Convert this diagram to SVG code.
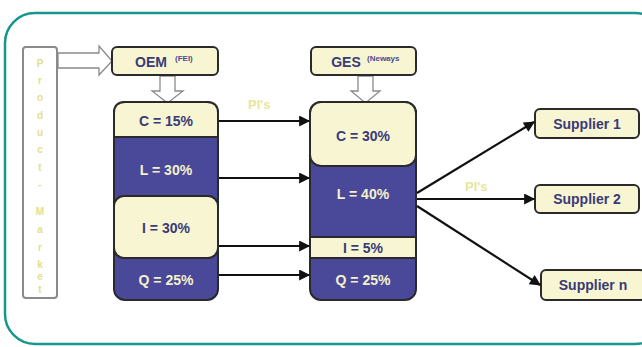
<svg xmlns="http://www.w3.org/2000/svg" width="642" height="347" viewBox="0 0 642 347">
  <style>
    .frame { fill: #ffffff; stroke: #17978d; stroke-width: 2.5; }
    .pm { fill: #ffffff; stroke: #8a8a8a; stroke-width: 2; }
    .pmtxt { font-family: "Liberation Sans", Arial, sans-serif; font-size: 10px; font-weight: bold; fill: #e2e08e; text-anchor: middle; }
    .hollow { fill: #ffffff; stroke: #8a8a8a; stroke-width: 1.3; }
    .cream { fill: #f8f6d2; stroke: #2a2a2a; stroke-width: 2; }
    .navy { fill: #4a4898; stroke: #2a2a2a; stroke-width: 2; }
    .lbl { font-family: "Liberation Sans", Arial, sans-serif; font-size: 14px; font-weight: bold; text-anchor: middle; }
    .dk { fill: #3a3a78; }
    .lt { fill: #f4f2cc; }
    .sup { font-family: "Liberation Sans", Arial, sans-serif; font-size: 8px; font-weight: bold; fill: #4a4a90; }
    .pis { font-family: "Liberation Sans", Arial, sans-serif; font-size: 13px; font-weight: bold; fill: #e8e69a; }
    .conn { stroke: #111111; stroke-width: 2.2; fill: none; marker-end: url(#ah); }
  </style>
  <defs>
    <marker id="ah" viewBox="0 0 10 10" refX="9" refY="5" markerWidth="5.5" markerHeight="5" orient="auto" markerUnits="strokeWidth">
      <path d="M0,0 L10,5 L0,10 z" fill="#111111"/>
    </marker>
  </defs>

  <!-- outer frame -->
  <rect class="frame" x="5" y="13" width="660" height="331" rx="30"/>

  <!-- Product - Market column -->
  <g id="product-market">
    <rect class="pm" x="23" y="47" width="34" height="251" rx="3"/>
    <text class="pmtxt" x="40" y="67">P</text>
    <text class="pmtxt" x="40" y="84">r</text>
    <text class="pmtxt" x="40" y="101">o</text>
    <text class="pmtxt" x="40" y="119">d</text>
    <text class="pmtxt" x="40" y="136">u</text>
    <text class="pmtxt" x="40" y="153">c</text>
    <text class="pmtxt" x="40" y="171">t</text>
    <text class="pmtxt" x="40" y="188">-</text>
    <text class="pmtxt" x="40" y="215">M</text>
    <text class="pmtxt" x="40" y="233">a</text>
    <text class="pmtxt" x="40" y="251">r</text>
    <text class="pmtxt" x="40" y="268">k</text>
    <text class="pmtxt" x="40" y="280">e</text>
    <text class="pmtxt" x="40" y="293">t</text>
  </g>

  <!-- hollow arrows -->
  <g id="flow-arrows">
    <path class="hollow" d="M58,53 L99,53 L99,46 L112,61 L99,75 L99,68 L58,68 z"/>
    <path class="hollow" d="M160,76 L175,76 L175,91 L183,91 L167.5,103 L152,91 L160,91 z"/>
    <path class="hollow" d="M358,76 L373,76 L373,91 L380,91 L365.5,103 L351,91 L358,91 z"/>
  </g>

  <!-- OEM header -->
  <g id="oem">
    <rect class="cream" x="112" y="47" width="106" height="28" rx="5"/>
    <text class="lbl dk" x="151" y="67">OEM</text>
    <text class="sup" x="175" y="61">(FEI)</text>
  </g>

  <!-- GES header -->
  <g id="ges">
    <rect class="cream" x="311" y="47" width="105" height="28" rx="5"/>
    <text class="lbl dk" x="346" y="67">GES</text>
    <text class="sup" x="367" y="61">(Neways</text>
  </g>

  <!-- OEM stack -->
  <g id="oem-stack">
    <rect class="navy" x="114" y="102" width="104" height="198" rx="11"/>
    <path class="cream" d="M114,137 L114,113 Q114,102 125,102 L207,102 Q218,102 218,113 L218,137 z"/>
    <rect class="cream" x="114" y="196" width="104" height="62" rx="10"/>
    <text class="lbl dk" x="166" y="126">C = 15%</text>
    <text class="lbl lt" x="166" y="175">L = 30%</text>
    <text class="lbl dk" x="166" y="233">I = 30%</text>
    <text class="lbl lt" x="166" y="285">Q = 25%</text>
  </g>

  <!-- GES stack -->
  <g id="ges-stack">
    <rect class="navy" x="310" y="102" width="106" height="198" rx="11"/>
    <rect class="cream" x="310" y="102" width="106" height="64" rx="11"/>
    <rect class="cream" x="310" y="237" width="106" height="21"/>
    <text class="lbl dk" x="363" y="141">C = 30%</text>
    <text class="lbl lt" x="363" y="199">L = 40%</text>
    <text class="lbl dk" x="363" y="253">I = 5%</text>
    <text class="lbl lt" x="363" y="285">Q = 25%</text>
  </g>

  <!-- suppliers -->
  <g id="supplier-1">
    <rect class="cream" x="535" y="109" width="104" height="29" rx="5"/>
    <text class="lbl dk" x="587" y="129">Supplier 1</text>
  </g>
  <g id="supplier-2">
    <rect class="cream" x="535" y="185" width="104" height="28" rx="5"/>
    <text class="lbl dk" x="587" y="204">Supplier 2</text>
  </g>
  <g id="supplier-n">
    <rect class="cream" x="541" y="270" width="104" height="30" rx="5"/>
    <text class="lbl dk" x="593" y="290">Supplier n</text>
  </g>

  <!-- connectors -->
  <g id="connectors">
    <line class="conn" x1="219" y1="121" x2="309" y2="121"/>
    <line class="conn" x1="219" y1="178" x2="309" y2="178"/>
    <line class="conn" x1="219" y1="246" x2="309" y2="246"/>
    <line class="conn" x1="219" y1="275" x2="309" y2="275"/>
    <line class="conn" x1="417" y1="193" x2="534" y2="122"/>
    <line class="conn" x1="417" y1="199" x2="534" y2="199"/>
    <line class="conn" x1="417" y1="206" x2="540" y2="285"/>
    <text class="pis" x="248" y="109">PI's</text>
    <text class="pis" x="465" y="191">PI's</text>
  </g>
</svg>
